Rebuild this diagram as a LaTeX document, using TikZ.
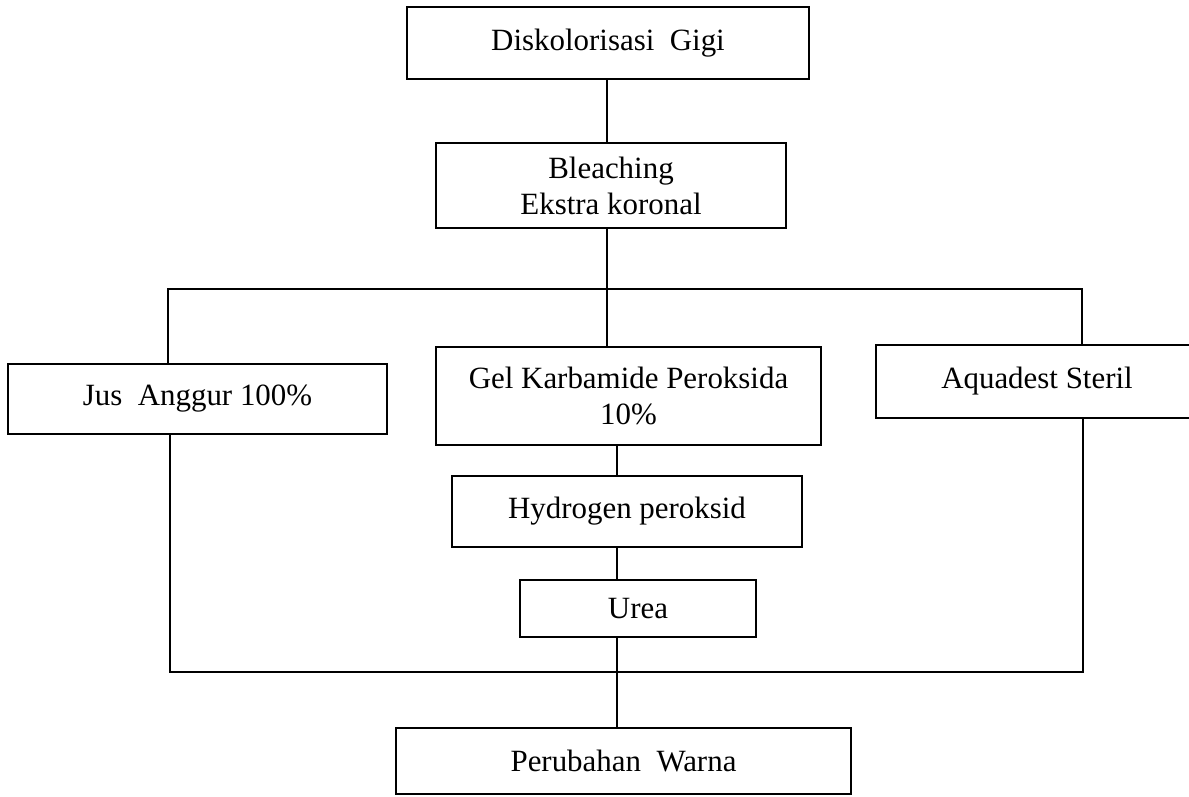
\documentclass[tikz,border=0pt]{standalone}
\usepackage{fontspec}
\setmainfont{Liberation Serif}
\usepackage{tikz}

\tikzset{
    box/.style={draw, line width=1.2pt, inner sep=0pt, align=center,
        font=\fontsize{17.6}{20.5}\selectfont},
    link/.style={line width=1.2pt}
}

\begin{document}
\begin{tikzpicture}[x=0.02cm, y=-0.02cm]
        \clip (0,0) rectangle (1189,796);
        \node[box, minimum width=8.04cm, minimum height=1.44cm] (diskol) at (608,43) {Diskolorisasi\ \ Gigi};
        \node[box, minimum width=7.0cm, minimum height=1.7cm] (bleach) at (611,185.5) {Bleaching\\Ekstra koronal};
        \node[box, minimum width=7.58cm, minimum height=1.4cm] (jus) at (197.5,399) {Jus\ \ Anggur 100\%};
        \node[box, minimum width=7.7cm, minimum height=1.96cm] (gel) at (628.5,396) {Gel Karbamide Peroksida\\10\%};
        \node[box, minimum width=6.44cm, minimum height=1.46cm] (aqua) at (1037,381.5) {Aquadest Steril};
        \node[box, minimum width=7.0cm, minimum height=1.42cm] (hydro) at (627,511.5) {Hydrogen peroksid};
        \node[box, minimum width=4.72cm, minimum height=1.14cm] (urea) at (638,608.5) {Urea};
        \node[box, minimum width=9.1cm, minimum height=1.32cm] (perub) at (623.5,761) {Perubahan\ \ Warna};
        \coordinate (hub) at (607,289);
        \coordinate (ltop) at (168,289);
        \coordinate (rtop) at (1082,289);
        \coordinate (lbot) at (170,672);
        \coordinate (rbot) at (1083,672);
        \coordinate (sbot) at (617,672);
        \draw[link] (diskol.south -| hub) -- (bleach.north -| hub);
        \draw[link] (bleach.south -| hub) -- (gel.north -| hub);
        \draw[link] (jus.north -| ltop) -- (ltop) -- (rtop) -- (aqua.north -| rtop);
        \draw[link] (jus.south -| lbot) -- (lbot) -- (rbot) -- (aqua.south -| rbot);
        \draw[link] (gel.south -| sbot) -- (hydro.north -| sbot);
        \draw[link] (hydro.south -| sbot) -- (urea.north -| sbot);
        \draw[link] (urea.south -| sbot) -- (perub.north -| sbot);
    \end{tikzpicture}
\end{document}
